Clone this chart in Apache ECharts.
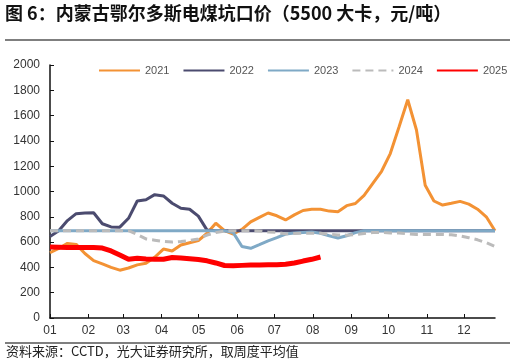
<!DOCTYPE html>
<html>
<head>
<meta charset="utf-8">
<script src="https://cdn.jsdelivr.net/npm/echarts@6/dist/echarts.min.js"></script>
<style>
html,body{margin:0;padding:0;background:#fff;}
#c{width:516px;height:364px;}
</style>
</head>
<body>
<div id="c"></div>
<script>
// Month ticks (day-of-year of month start) and their labels
const monthStarts = [0,31,59,90,120,151,181,212,243,273,304,334];
const monthLabels = ['01','02','03','04','05','06','07','08','09','10','11','12'];
const dayCount = 360;
const yTicks = [0, 2000, 200];

const seriesNames = ['2021','2022','2023','2024','2025'];

// weekly averages, yuan/ton
const v2021 = [516,550,590,582,510,453,428,400,378,395,420,432,480,545,530,577,595,612,670,749,690,664,700,760,796,830,808,775,815,850,860,860,845,840,888,905,970,1065,1160,1300,1510,1725,1486,1050,925,893,907,922,900,860,800,690];
const v2022 = [645,690,770,825,830,832,745,720,718,788,925,935,975,965,907,867,860,805,695,690,690,690,690,690,690,690,690,690,690,690,690,690,690,690,690,690,690,690,690,690,690,690,690,690,690,690,690,690,690,690,690,690];
const v2023 = [690,690,690,690,690,690,690,690,690,690,690,690,690,690,690,690,690,690,690,690,690,675,565,551,580,610,635,664,672,676,680,670,650,632,650,675,690,690,690,690,690,690,690,690,690,690,690,690,690,690,690,690];
const v2024 = [690,690,690,690,690,690,690,690,690,690,660,625,615,605,600,605,612,625,656,675,688,690,690,690,688,680,677,665,668,670,670,670,662,656,655,660,668,675,676,672,672,665,660,660,660,660,658,648,635,618,595,565];
const v2025 = [562,560,558,558,558,557,553,530,498,465,472,466,464,464,478,474,468,462,452,435,415,414,416,418,418,420,421,425,435,450,464,482];

const colors = ['#F39234','#4B4B6F','#7FA9C6','#BBBBBB','#FF0000'];
const widths = [3,3,3,3,5];
const dashes = ['solid','solid','solid',[8,5],'solid'];
const allData = [v2021,v2022,v2023,v2024,v2025];

const days = [];
for (let d = 0; d < dayCount; d++) days.push(String(d));
const isMonthStart = (i) => monthStarts.indexOf(i) >= 0;

const chart = echarts.init(document.getElementById('c'));
chart.setOption({
  animation: false,
  backgroundColor: '#fff',
  graphic: [
    {type:'text', left: 5, top: 4, style:{text:'图 6：内蒙古鄂尔多斯电煤坑口价（5500 大卡，元/吨）', font:'bold 18px "Noto Sans CJK SC", sans-serif', fill:'#111'}},
    {type:'line', shape:{x1:5,y1:40,x2:510,y2:40}, style:{stroke:'#555', lineWidth:1.5}},
    {type:'line', shape:{x1:5,y1:343,x2:510,y2:343}, style:{stroke:'#555', lineWidth:1.5}},
    {type:'text', left: 6, top: 345, style:{text:'资料来源：CCTD，光大证券研究所，取周度平均值', font:'13px "Noto Sans CJK SC", sans-serif', fill:'#222'}}
  ],
  legend: {
    left: 98, top: 65, width: 418, padding: 0,
    itemWidth: 41, itemHeight: 4, itemGap: 13,
    itemStyle: {opacity: 0},
    textStyle: {fontSize: 11, color: '#555', fontFamily: 'Liberation Sans, Arial, sans-serif'},
    data: seriesNames
  },
  grid: {left: 50, right: 21, top: 65, bottom: 46},
  xAxis: [
    {
      type: 'category', data: days, boundaryGap: false,
      axisLine: {lineStyle: {color: '#111', width: 1.5}},
      axisTick: {inside: true, length: 4, interval: isMonthStart, lineStyle:{color:'#111'}},
      axisLabel: {interval: isMonthStart, color: '#333', fontSize: 12, margin: 7,
        fontFamily: 'Liberation Sans, Arial, sans-serif',
        formatter: (v) => monthLabels[monthStarts.indexOf(+v)]},
      splitLine: {show: false}
    },
    {type: 'value', min: 0, max: 51, show: false}
  ],
  yAxis: {
    type: 'value', min: yTicks[0], max: yTicks[1], interval: yTicks[2],
    axisLine: {show: true, lineStyle: {color: '#111', width: 1.5}},
    axisTick: {show: true, inside: true, length: 4, lineStyle:{color:'#111'}},
    axisLabel: {color: '#333', fontSize: 12, margin: 10, fontFamily: 'Liberation Sans, Arial, sans-serif',
      formatter: (v) => String(v)},
    splitLine: {show: false}
  },
  series: seriesNames.map((n, k) => ({
    name: n, type: 'line', xAxisIndex: 1, symbol: 'none', smooth: false,
    data: allData[k].map((v, i) => [i, v]),
    z: 2 + k,
    itemStyle: {color: colors[k]},
    lineStyle: {color: colors[k], width: widths[k], type: dashes[k]}
  }))
});
</script>
</body>
</html>
